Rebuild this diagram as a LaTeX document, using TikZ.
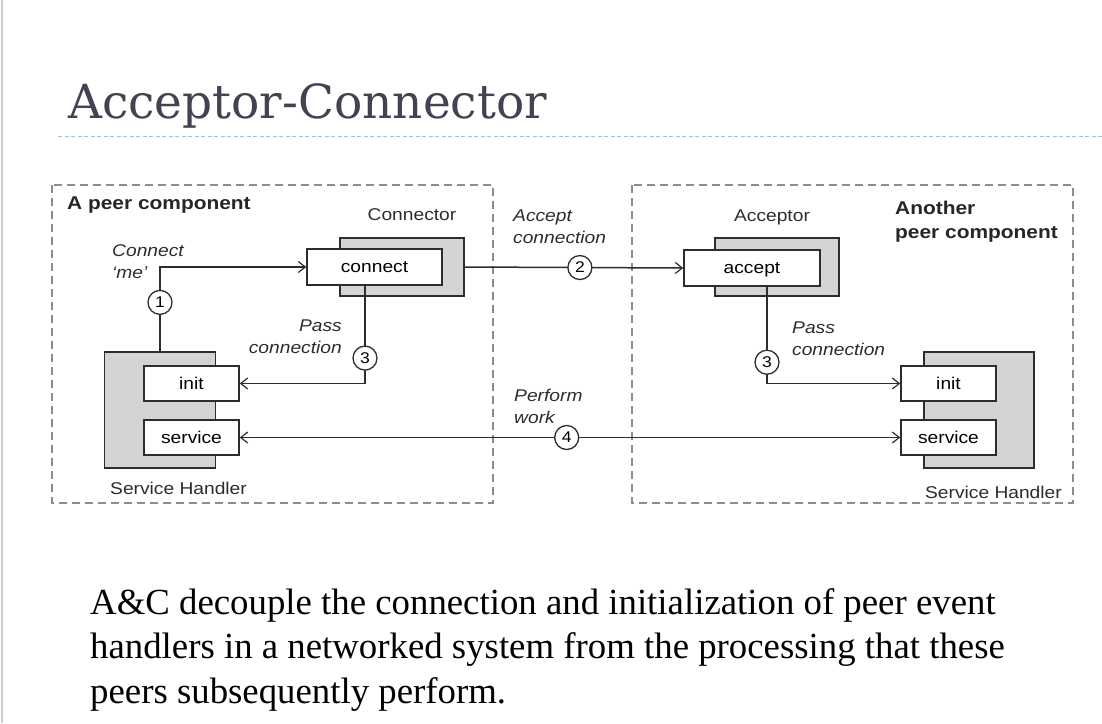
\documentclass[tikz,border=0pt]{standalone}
\usepackage{fontspec}
\usetikzlibrary{arrows.meta}
\newfontfamily\lab[FakeStretch=1.13]{Liberation Sans}
\newfontfamily\ttlfont{DejaVu Serif}
\newfontfamily\bodyfont{Liberation Serif}
\definecolor{ink}{RGB}{45,45,45}
\definecolor{shade}{RGB}{212,212,212}
\definecolor{grpline}{RGB}{140,140,140}
\definecolor{ttlcol}{RGB}{66,66,82}
\definecolor{rulecol}{RGB}{160,196,222}
\definecolor{edgecol}{RGB}{205,205,205}
\tikzset{
  grp/.style={draw=grpline, line width=1.1pt, dash pattern=on 8pt off 5pt},
  shadowbox/.style={draw=ink, fill=shade, line width=1.5pt, inner sep=0pt},
  methbox/.style={draw=ink, fill=white, line width=1.5pt, inner sep=0pt,
    text height=12pt, text depth=1pt,
    font=\lab\fontsize{17}{20}\selectfont},
  stepc/.style={circle, draw=ink, fill=white, line width=1.3pt, minimum size=24pt,
    inner sep=0pt, font=\lab\fontsize{15.5}{15.5}\selectfont},
  flow/.style={draw=ink, line width=1.5pt, -{Straight Barb[length=7pt,width=11pt,line width=1.2pt]}},
  flow2/.style={draw=ink, line width=1.5pt, {Straight Barb[length=7pt,width=11pt,line width=1.2pt]}-{Straight Barb[length=7pt,width=11pt,line width=1.2pt]}},
  plain/.style={font=\lab\fontsize{17}{22}\selectfont, text=ink, inner sep=0pt},
  note/.style={font=\lab\itshape\fontsize{17}{22}\selectfont, text=ink, inner sep=0pt},
  heading/.style={font=\lab\bfseries\fontsize{18.5}{24.5}\selectfont, text=black!85, inner sep=0pt}
}
\begin{document}
\begin{tikzpicture}[x=1pt,y=-1pt]
\useasboundingbox[fill=white] (0,0) rectangle (1102,723);

% slide edge and title
\draw[edgecol, line width=2pt] (1.5,0) -- (1.5,723);
\node[font=\ttlfont\fontsize{47}{52}\selectfont, text=ttlcol, anchor=base west, inner sep=0pt]
  (title) at (68,118) {Acceptor-Connector};
\draw[rulecol, line width=0.9pt, dash pattern=on 4pt off 2.5pt] (58,136) -- (1102,136);

% the two peer components
\draw[grp] (52,185) rectangle (493,503);
\draw[grp] (632,185) rectangle (1073,503);
\node[heading, anchor=base west] (peerA) at (67,209) {A peer component};
\node[heading, anchor=base west, align=left] (peerB) at (895,238.5) {Another\\peer component};

% connector
\node[shadowbox, minimum width=124pt, minimum height=58pt] (cshadow) at (402,267) {};
\node[methbox, minimum width=135pt, minimum height=36pt] (cbox) at (374.5,267) {connect};
\node[plain] (clabel) at (412,215) {Connector};

% acceptor
\node[shadowbox, minimum width=124pt, minimum height=58pt] (ashadow) at (777,267) {};
\node[methbox, minimum width=136pt, minimum height=36pt] (abox) at (752,268) {accept};
\node[plain] (alabel) at (772,217) {Acceptor};

% service handler, left
\node[shadowbox, minimum width=111pt, minimum height=116pt] (lshadow) at (160,410) {};
\node[methbox, minimum width=95pt, minimum height=35pt] (linit) at (191.5,383.5) {init};
\node[methbox, minimum width=95pt, minimum height=35pt] (lserv) at (191.5,437.5) {service};
\node[plain, anchor=base west] (lsh) at (110,494) {Service Handler};

% service handler, right
\node[shadowbox, minimum width=110pt, minimum height=116pt] (rshadow) at (979,410) {};
\node[methbox, minimum width=95pt, minimum height=35pt] (rinit) at (948.5,383.5) {init};
\node[methbox, minimum width=95pt, minimum height=35pt] (rserv) at (948.5,437.5) {service};
\node[plain, anchor=base east] (rsh) at (1062,498) {Service Handler};

% step 1: connect 'me'
\draw[flow] (lshadow.north) |- (cbox.west) node[stepc, pos=0.29] (s1) {1};
\node[note, anchor=base west, align=left] (l1) at (112,278) {Connect\\‘me’};

% step 2: accept connection
\draw[flow] (cshadow.east) -- (abox.west) node[stepc, pos=0.527] (s2) {2};
\node[note, anchor=base west, align=left] (l2) at (513,243) {Accept\\connection};

% step 3: pass connection, both sides
\draw[flow] ([xshift=-9.5pt]cbox.south) |- (linit.east) node[stepc, pos=0.37] (s3a) {3};
\node[note, anchor=base east, align=right] (l3a) at (342,353) {Pass\\connection};
\draw[flow] ([xshift=15pt]abox.south) |- (rinit.west) node[stepc, pos=0.39] (s3b) {3};
\node[note, anchor=base west, align=left] (l3b) at (792,355) {Pass\\connection};

% step 4: perform work
\draw[flow2] (lserv.east) -- (rserv.west) node[stepc, pos=0.495] (s4) {4};
\node[note, anchor=base west, align=left] (l4) at (514,423) {Perform\\work};

% summary
\node[font=\bodyfont\fontsize{36.8}{44.5}\selectfont, anchor=base west, align=left, inner sep=0pt]
  (summary) at (90,703) {A\&C decouple the connection and initialization of peer event\\
  handlers in a networked system from the processing that these\\
  peers subsequently perform.};
\end{tikzpicture}
\end{document}
